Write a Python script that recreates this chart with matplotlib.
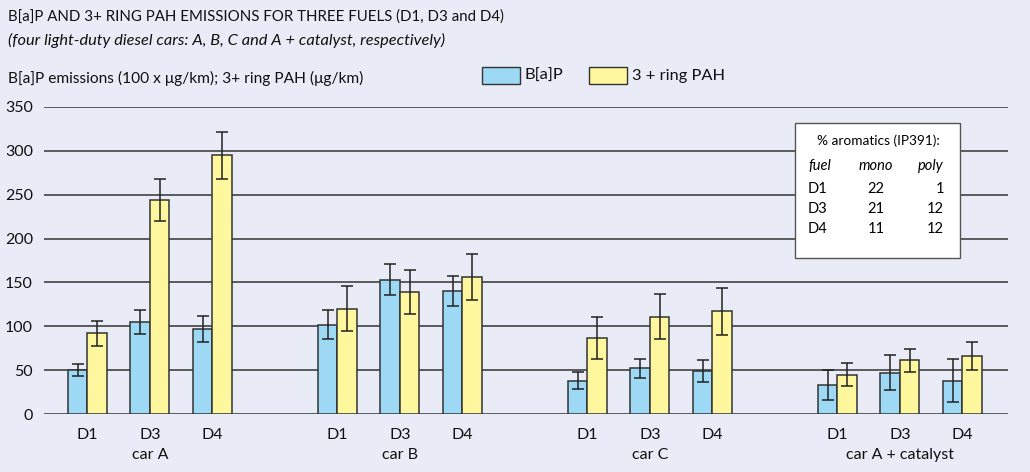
import numpy as np
import matplotlib.pyplot as plt
from matplotlib.patches import Rectangle

# data
cars = ["car A", "car B", "car C", "car A + catalyst"]
fuels = ["D1", "D3", "D4"]
bap = [50, 105, 97, 102, 153, 140, 38, 52, 49, 33, 47, 38]
bap_err = [6.5, 13.5, 14.5, 16, 17.5, 17, 9.7, 10.5, 12.4, 17.5, 20, 24.4]
pah = [92, 244, 295, 120, 139, 156, 87, 111, 117, 45, 61, 66]
pah_err = [14, 24, 27, 25.5, 25.5, 26.5, 24, 25.7, 27, 13.5, 13.3, 16]

table_rows = [["D1", "22", "1"], ["D3", "21", "12"], ["D4", "11", "12"]]

BG = "#e9ecf7"
BLUE = "#9dd9f5"
YELLOW = "#fff79d"
plt.rcParams["font.family"] = ["Lato", "DejaVu Sans"]

W, H = 1030, 472
fig = plt.figure(figsize=(W / 100, H / 100), dpi=100, facecolor=BG)


def px(x, y):
    return x / W, 1 - y / H


ax = fig.add_axes([44 / W, (H - 414) / H, (1008 - 44) / W, (414 - 107) / H])
ax.set_facecolor(BG)

# slot positions: 3 fuels per car, one empty slot between cars
x = np.array([g * 4 + i for g in range(len(cars)) for i in range(len(fuels))], dtype=float)
bw = 0.31
ekw = dict(ecolor="#222222", elinewidth=1.1, capsize=4, capthick=1.1)
ax.bar(x - bw / 2, bap, bw, color=BLUE, edgecolor="#333333", linewidth=1.1, zorder=3,
       yerr=bap_err, error_kw=ekw)
ax.bar(x + bw / 2, pah, bw, color=YELLOW, edgecolor="#333333", linewidth=1.1, zorder=3,
       yerr=pah_err, error_kw=ekw)

ax.set_xlim(-0.693, 14.73)
ax.set_ylim(0, 350)
ax.set_yticks(range(0, 351, 50))
ax.yaxis.grid(True, color="#333333", linewidth=1.1, zorder=1)
ax.set_axisbelow(True)
for s in ax.spines.values():
    s.set_visible(False)
ax.tick_params(axis="y", length=0, pad=8, labelsize=11.5, colors="#111111")
ax.set_xticks(x)
ax.set_xticklabels(fuels * len(cars))
ax.tick_params(axis="x", length=0, pad=10, labelsize=11.5, colors="#111111")
for g, car in enumerate(cars):
    ax.text(g * 4 + 1, -0.135, car, transform=ax.get_xaxis_transform(),
            ha="center", va="center", fontsize=11.5, color="#111111")

# titles
fig.text(*px(8, 17), "B[a]P AND 3+ RING PAH EMISSIONS FOR THREE FUELS (D1, D3 and D4)",
         fontsize=10.8, va="center", ha="left", color="#111111")
fig.text(*px(8, 40), "(four light-duty diesel cars: A, B, C and A + catalyst, respectively)",
         fontsize=11.8, style="italic", va="center", ha="left", color="#111111")
fig.text(*px(8, 78), "B[a]P emissions (100 x \u03bcg/km); 3+ ring PAH (\u03bcg/km)",
         fontsize=11.2, va="center", ha="left", color="#111111")

# legend
for x0, col, lab in [(482, BLUE, "B[a]P"), (589, YELLOW, "3 + ring PAH")]:
    fig.patches.append(Rectangle(px(x0, 84), 38 / W, 17 / H, transform=fig.transFigure,
                                 facecolor=col, edgecolor="#333333", linewidth=1))
    fig.text(*px(x0 + 43, 76), lab, fontsize=11.8, va="center", ha="left", color="#111111")

# aromatics table
fig.patches.append(Rectangle(px(795, 258), 165 / W, 135 / H, transform=fig.transFigure,
                             facecolor="white", edgecolor="#555555", linewidth=1, zorder=5))
fig.text(*px(878, 141), "% aromatics (IP391):", fontsize=9.8, ha="center", va="center", zorder=6)
for xx, lab, ha in [(808, "fuel", "left"), (876, "mono", "center"), (944, "poly", "right")]:
    fig.text(*px(xx, 166), lab, fontsize=10.5, style="italic", ha=ha, va="center", zorder=6)
for r, row in enumerate(table_rows):
    yy = 189 + r * 20
    fig.text(*px(808, yy), row[0], fontsize=10.5, ha="left", va="center", zorder=6)
    fig.text(*px(876, yy), row[1], fontsize=10.5, ha="center", va="center", zorder=6)
    fig.text(*px(944, yy), row[2], fontsize=10.5, ha="right", va="center", zorder=6)

fig.savefig("out.png", dpi=100, facecolor=BG)
